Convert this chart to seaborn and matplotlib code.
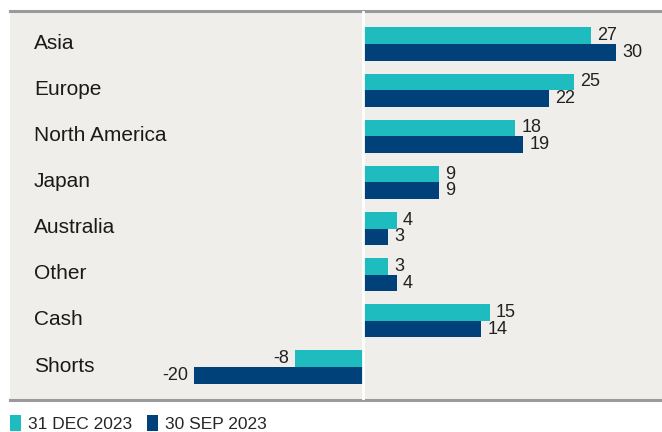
import numpy as np
import pandas as pd
import matplotlib
matplotlib.use("Agg")
import matplotlib.pyplot as plt
import matplotlib.transforms as mtrans
from matplotlib.patches import Patch
import seaborn as sns

# data
regions = ["Asia", "Europe", "North America", "Japan", "Australia", "Other", "Cash", "Shorts"]
dec_2023 = [27, 25, 18, 9, 4, 3, 15, -8]
sep_2023 = [30, 22, 19, 9, 3, 4, 14, -20]
series_names = ["31 DEC 2023", "30 SEP 2023"]

teal = "#1fbcbf"
navy = "#00417a"
bg = "#f0eeea"

df = pd.DataFrame({
    "region": regions * 2,
    "value": dec_2023 + sep_2023,
    "period": [series_names[0]] * len(regions) + [series_names[1]] * len(regions),
})

sns.set_style("white")
plt.rcParams["font.family"] = ["Liberation Sans", "DejaVu Sans"]

fig = plt.figure(figsize=(6.62, 4.32), dpi=100)
ax = fig.add_axes([10 / 662, 1 - 400 / 432, 652 / 662, 389 / 432])
ax.set_facecolor(bg)

sns.barplot(data=df, y="region", x="value", hue="period", orient="h",
            palette=[teal, navy], width=0.72, order=regions,
            hue_order=series_names, ax=ax, legend=False, saturation=1,
            edgecolor="none", linewidth=0)

# value labels
for cont in ax.containers:
    ax.bar_label(cont, fmt="%d", padding=4.5, fontsize=13, color="#222222")

ax.set_xlim(-41.8, 35.4)
ax.set_ylim(7.715, -0.715)
ax.axvline(0, color="white", lw=2, zorder=3)

# category names inside the plot
trans = mtrans.blended_transform_factory(ax.transAxes, ax.transData)
for i, r in enumerate(regions):
    ax.text(24 / 652, i - 0.02, r, transform=trans, ha="left", va="center",
            fontsize=15, color="#1a1a1a")

ax.set_xlabel("")
ax.set_ylabel("")
ax.set_xticks([])
ax.set_yticks([])
for s in ["left", "right"]:
    ax.spines[s].set_visible(False)
for s in ["top", "bottom"]:
    ax.spines[s].set_color("#9a9a9a")
    ax.spines[s].set_linewidth(2.2)

# legend
handles = [Patch(facecolor=teal, edgecolor="none"), Patch(facecolor=navy, edgecolor="none")]
fig.legend(handles, series_names, loc="lower left", bbox_to_anchor=(-0.003, -0.028),
           ncol=2, frameon=False, fontsize=12.5, handlelength=0.6, handleheight=1.0,
           handletextpad=0.4, columnspacing=0.9, borderaxespad=0.3)

fig.savefig("out.png", dpi=100)
